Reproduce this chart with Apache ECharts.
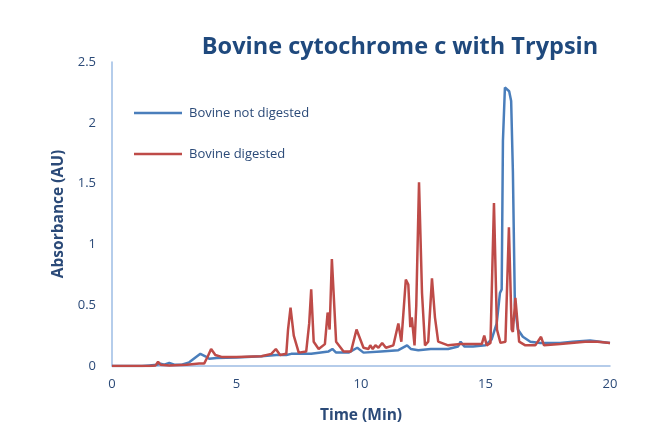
<!DOCTYPE html>
<html>
<head>
<meta charset="utf-8">
<script src="https://cdn.jsdelivr.net/npm/echarts@6/dist/echarts.min.js"></script>
<style>html,body{margin:0;padding:0;background:#fff;}#c{width:649px;height:432px;}</style>
</head>
<body>
<div id="c"></div>
<script>
var xTicks = [0, 5, 10, 15, 20];
var yTicks = [0, 0.5, 1, 1.5, 2, 2.5];

var timeNotDigested = [0, 1.2, 1.5, 1.8, 1.95, 2.1, 2.3, 2.5, 2.8, 3.1, 3.35, 3.55, 3.75, 3.9, 4.2, 5, 6, 6.6, 7.0, 7.2, 8.0, 8.7, 8.85, 9.0, 9.5, 9.85, 10.1, 10.8, 11.5, 11.85, 12.0, 12.3, 12.8, 13.5, 13.9, 14.0, 14.15, 14.5, 15.0, 15.25, 15.45, 15.58, 15.65, 15.7, 15.78, 15.85, 15.95, 16.03, 16.1, 16.18, 16.3, 16.5, 16.8, 17.2, 18, 18.5, 19.2, 19.6, 20];
var absNotDigested =  [0, 0, 0.005, 0.01, 0.02, 0.01, 0.025, 0.01, 0.01, 0.03, 0.07, 0.1, 0.08, 0.06, 0.065, 0.07, 0.08, 0.09, 0.09, 0.1, 0.1, 0.12, 0.14, 0.11, 0.11, 0.15, 0.11, 0.12, 0.13, 0.17, 0.14, 0.13, 0.14, 0.14, 0.16, 0.2, 0.16, 0.16, 0.17, 0.22, 0.35, 0.6, 0.63, 1.85, 2.29, 2.3, 2.26, 2.18, 1.6, 0.5, 0.3, 0.24, 0.2, 0.19, 0.19, 0.2, 0.21, 0.2, 0.19];

var timeDigested = [0, 1.5, 1.75, 1.85, 1.95, 2.3, 3.0, 3.5, 3.7, 3.85, 3.98, 4.15, 4.4, 5.0, 6.0, 6.4, 6.58, 6.75, 7.0, 7.07, 7.17, 7.3, 7.5, 7.8, 7.92, 8.0, 8.1, 8.3, 8.55, 8.66, 8.74, 8.83, 9.0, 9.3, 9.6, 9.82, 10.1, 10.3, 10.37, 10.47, 10.58, 10.7, 10.85, 11.0, 11.3, 11.5, 11.62, 11.8, 11.9, 11.98, 12.04, 12.15, 12.22, 12.33, 12.45, 12.57, 12.7, 12.85, 12.97, 13.1, 13.5, 14.0, 14.5, 14.85, 14.95, 15.05, 15.2, 15.34, 15.46, 15.6, 15.8, 15.94, 16.05, 16.1, 16.2, 16.35, 16.6, 17.0, 17.23, 17.35, 18, 19.0, 19.5, 20];
var absDigested =  [0, 0, 0.005, 0.035, 0.01, 0.005, 0.01, 0.02, 0.02, 0.08, 0.14, 0.09, 0.075, 0.075, 0.08, 0.1, 0.14, 0.09, 0.1, 0.3, 0.48, 0.25, 0.11, 0.12, 0.35, 0.63, 0.2, 0.14, 0.18, 0.44, 0.3, 0.88, 0.2, 0.12, 0.12, 0.3, 0.15, 0.14, 0.17, 0.14, 0.17, 0.15, 0.19, 0.15, 0.17, 0.35, 0.2, 0.71, 0.67, 0.32, 0.4, 0.17, 0.5, 1.51, 0.6, 0.17, 0.2, 0.72, 0.4, 0.2, 0.17, 0.18, 0.18, 0.18, 0.25, 0.17, 0.19, 1.34, 0.3, 0.19, 0.2, 1.14, 0.3, 0.28, 0.56, 0.2, 0.17, 0.17, 0.24, 0.17, 0.18, 0.2, 0.2, 0.19];

function pairs(t, v) { return t.map(function (x, i) { return [x, v[i]]; }); }

var labelColor = '#2B4A78';
var axisColor = '#9DBCE4';
var fam = '"Open Sans", "Liberation Sans", sans-serif';

var chart = echarts.init(document.getElementById('c'), null, {renderer: 'canvas'});
chart.setOption({
  animation: false,
  backgroundColor: '#ffffff',
  graphic: [{
    type: 'text', x: 400, y: 47,
    style: {text: 'Bovine cytochrome c with Trypsin', x: 0, y: 0, align: 'center', verticalAlign: 'middle',
      font: 'bold 23.5px "Open Sans", sans-serif', fill: '#1F497D'}
  }],
  grid: {left: 112, right: 39, top: 62, bottom: 66, containLabel: false},
  legend: {
    orient: 'vertical', left: 129, top: 100, itemWidth: 48, itemHeight: 2.5, itemGap: 25,
    icon: 'rect',
    textStyle: {color: labelColor, fontSize: 13, fontFamily: fam, lineHeight: 16, padding: [0, 0, 0, 2]},
    data: ['Bovine not digested', 'Bovine digested']
  },
  xAxis: {
    type: 'value', min: xTicks[0], max: xTicks[xTicks.length - 1], interval: 5,
    name: 'Time (Min)', nameLocation: 'middle', nameGap: 42,
    nameTextStyle: {color: labelColor, fontSize: 15.5, fontWeight: 'bold', fontFamily: fam},
    axisLine: {show: true, lineStyle: {color: axisColor, width: 1.5}},
    axisTick: {show: false}, splitLine: {show: false},
    axisLabel: {color: labelColor, fontSize: 13, fontFamily: fam, margin: 12}
  },
  yAxis: {
    type: 'value', min: yTicks[0], max: yTicks[yTicks.length - 1], interval: 0.5,
    name: 'Absorbance (AU)', nameLocation: 'middle', nameGap: 43, nameRotate: 90,
    nameTextStyle: {color: labelColor, fontSize: 15.5, fontWeight: 'bold', fontFamily: fam},
    axisLine: {show: true, lineStyle: {color: axisColor, width: 1.5}},
    axisTick: {show: false}, splitLine: {show: false},
    axisLabel: {color: labelColor, fontSize: 13, fontFamily: fam, margin: 16}
  },
  series: [{
    name: 'Bovine not digested', type: 'line', data: pairs(timeNotDigested, absNotDigested),
    showSymbol: false, symbol: 'none', color: '#4A7EBB',
    lineStyle: {color: '#4A7EBB', width: 2.5}
  }, {
    name: 'Bovine digested', type: 'line', data: pairs(timeDigested, absDigested),
    showSymbol: false, symbol: 'none', color: '#BE4B48',
    lineStyle: {color: '#BE4B48', width: 2.5}
  }]
});
</script>
</body>
</html>
